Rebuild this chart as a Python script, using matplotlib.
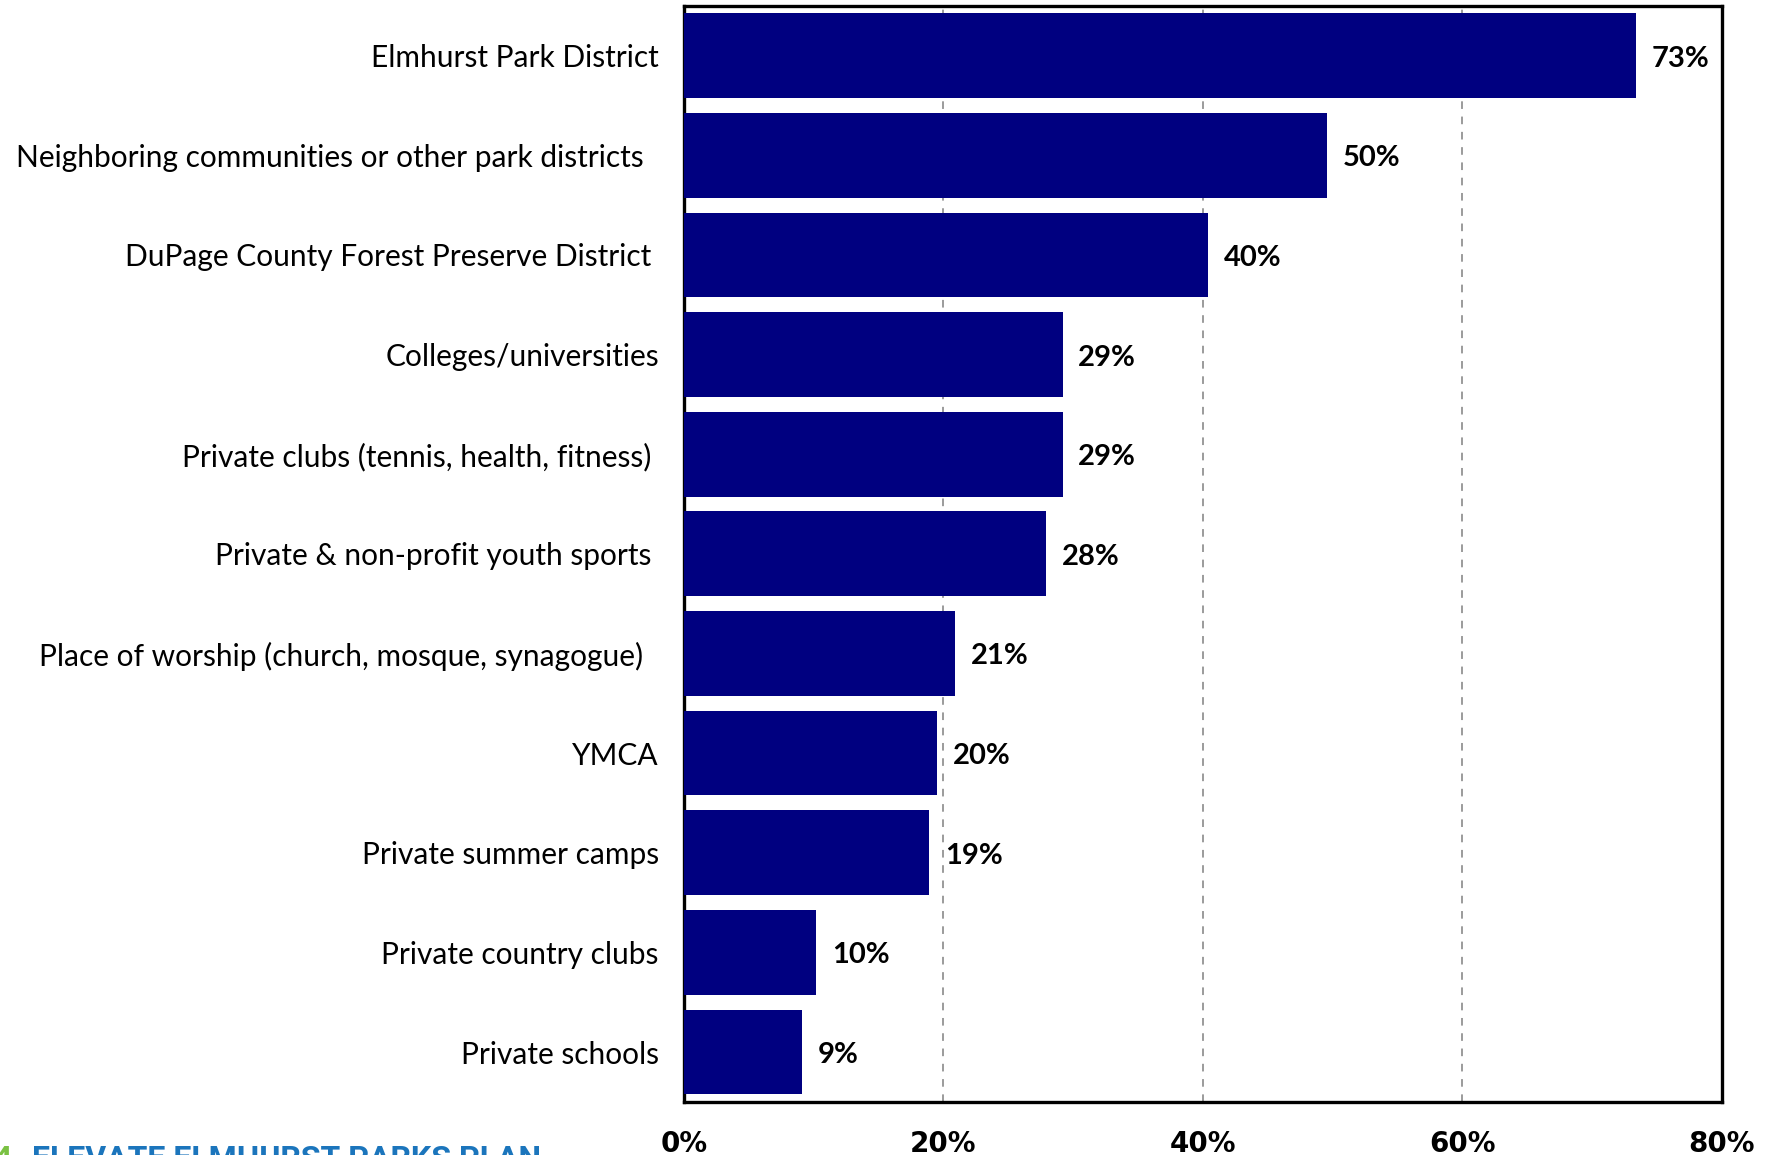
import matplotlib
matplotlib.use("Agg")
import matplotlib.pyplot as plt
from matplotlib.ticker import FuncFormatter

# datos del grafico (de arriba a abajo)
categorias = [
    "Elmhurst Park District",
    "Neighboring communities or other park districts  ",
    "DuPage County Forest Preserve District ",
    "Colleges/universities",
    "Private clubs (tennis, health, fitness) ",
    "Private & non-profit youth sports ",
    "Place of worship (church, mosque, synagogue)  ",
    "YMCA",
    "Private summer camps",
    "Private country clubs",
    "Private schools",
]
valores = [73.4, 49.6, 40.4, 29.2, 29.2, 27.9, 20.9, 19.5, 18.9, 10.2, 9.1]
etiquetas = ["73%", "50%", "40%", "29%", "29%", "28%", "21%", "20%", "19%", "10%", "9%"]
ticks_x = [0, 20, 40, 60, 80]

azul = "#000080"

fig = plt.figure(figsize=(17.67, 11.55), dpi=100)
ax = fig.add_axes([0.387, 0.046, 0.5875, 0.949])

pos = list(range(len(categorias)))
ax.barh(pos, valores, height=0.85, color=azul, zorder=3)

# etiquetas de valor junto a cada barra
for p, v, e in zip(pos, valores, etiquetas):
    ax.text(v + 1.2, p + 0.03, e, va="center", ha="left", fontsize=21,
            fontweight="bold", family="Lato", zorder=4)

ax.set_xlim(0, 80)
ax.set_ylim(len(categorias) - 0.5, -0.5)
ax.set_yticks(pos)
ax.set_yticklabels(categorias, fontsize=21.5, family="Lato")
ax.set_xticks(ticks_x)
ax.xaxis.set_major_formatter(FuncFormatter(lambda x, _: f"{x:.0f}%"))
for t in ax.get_xticklabels():
    t.set_fontsize(20)
    t.set_fontweight("bold")
    t.set_family("DejaVu Sans")
ax.tick_params(axis="y", length=0, pad=18)
ax.tick_params(axis="x", length=0, pad=20)

ax.grid(axis="x", linestyle=(0, (5, 5)), color="#808080", linewidth=1.1, zorder=0)
for s in ax.spines.values():
    s.set_linewidth(2.4)
    s.set_color("black")

# pie de pagina recortado
fig.text(-0.004, -0.0113, "4", color="#7ac143", fontsize=23, fontweight="bold",
         family="Roboto", ha="left", va="baseline")
fig.text(0.018, -0.0113, "ELEVATE ELMHURST PARKS PLAN", color="#1b75bc",
         fontsize=23, fontweight="bold", family="Roboto",
         ha="left", va="baseline")

fig.savefig("out.png", dpi=100)
